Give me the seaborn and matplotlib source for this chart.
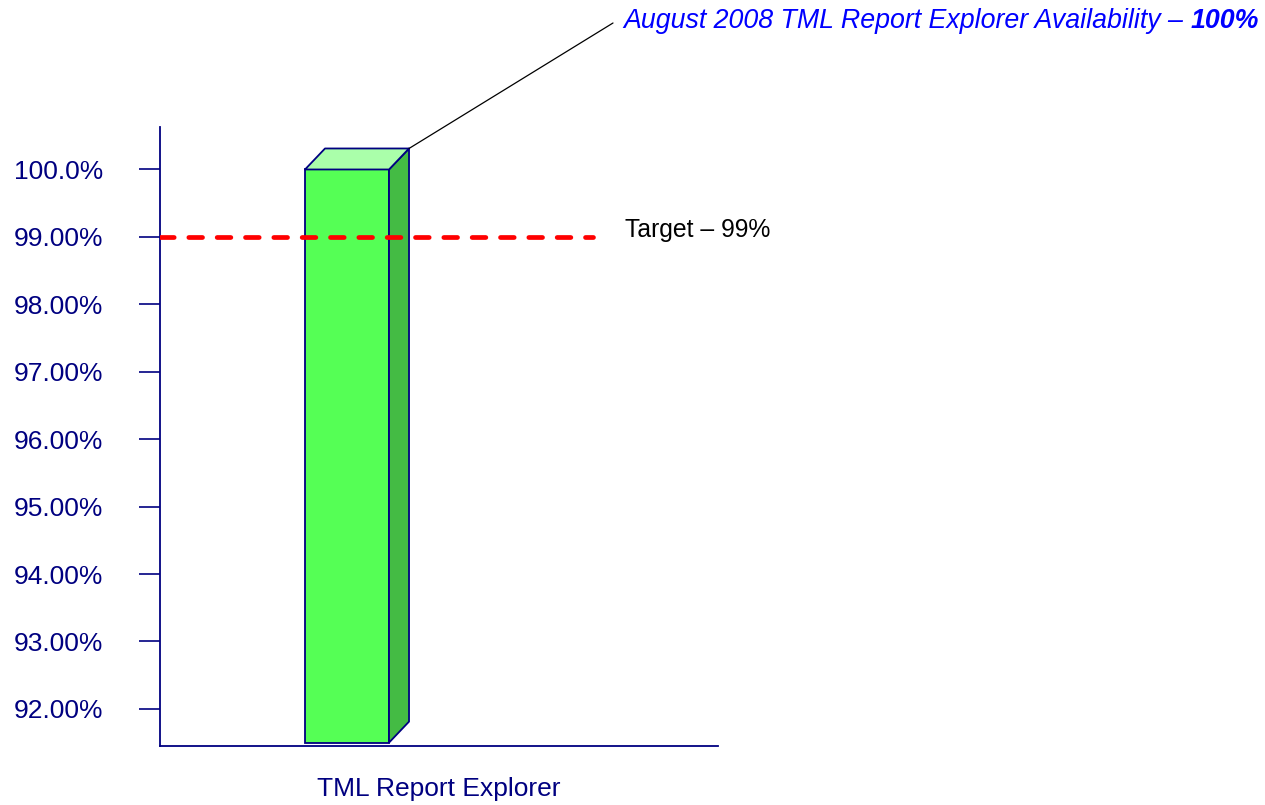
import numpy as np
import pandas as pd
import matplotlib
matplotlib.use("Agg")
import matplotlib.pyplot as plt
import seaborn as sns
from matplotlib.patches import Polygon
from matplotlib.offsetbox import TextArea, HPacker, AnnotationBbox

# ---- data ----
categories = ["TML Report Explorer"]
availability = [100.0]
target_value = 99.0
ytick_values = [92, 93, 94, 95, 96, 97, 98, 99, 100]
ytick_labels = ["92.00%", "93.00%", "94.00%", "95.00%", "96.00%",
                "97.00%", "98.00%", "99.00%", "100.0%"]
title_main = "August 2008 TML Report Explorer Availability \u2013 "
title_value = "100%"
target_label = "Target \u2013 99%"

# ---- style ----
NAVY = "#000080"
FRONT = "#55FF55"
TOP = "#AAFFAA"
SIDE = "#44BB44"
BLUE = "#0000FF"

sns.set_style("white")
plt.rcParams["font.family"] = ["Liberation Sans", "DejaVu Sans"]

W, H = 1265, 805
fig = plt.figure(figsize=(W / 100, H / 100), dpi=100)
ax = fig.add_axes([160 / W, 1 - 746 / H, 558 / W, 619 / H])

df = pd.DataFrame({"system": categories, "availability": availability})
sns.barplot(data=df, x="system", y="availability", color=FRONT, saturation=1,
            width=0.8, edgecolor=NAVY, linewidth=1.3, ax=ax, zorder=2)

ax.set_xlim(-1.781, 3.533)
ax.set_ylim(91.45, 100.63)

# bar base of the 3D column
base = 91.5
bar = ax.patches[0]
bar.set_y(base)
bar.set_height(availability[0] - base)

# depth offsets (pixels -> data)
inv = ax.transData.inverted()
o = ax.transData.transform((0, 95))
p = inv.transform(o + np.array([20, 21]))
ddx, ddy = p[0] - 0, p[1] - 95

xl = bar.get_x()
xr = xl + bar.get_width()
top = bar.get_y() + bar.get_height()
side = Polygon([(xr, base), (xr, top), (xr + ddx, top + ddy), (xr + ddx, base + ddy)],
               closed=True, facecolor=SIDE, edgecolor=NAVY, linewidth=1.3,
               zorder=2, clip_on=False, joinstyle="round")
topface = Polygon([(xl, top), (xr, top), (xr + ddx, top + ddy), (xl + ddx, top + ddy)],
                  closed=True, facecolor=TOP, edgecolor=NAVY, linewidth=1.3,
                  zorder=2, clip_on=False, joinstyle="round")
ax.add_patch(side)
ax.add_patch(topface)

# target line
ax.axhline(target_value, xmin=0, xmax=0.776, color="red", lw=3.4,
           linestyle=(0, (2.9, 3.1)), dash_capstyle="round", zorder=5)
ax.annotate(target_label, xy=(0.776, target_value), xycoords=ax.get_yaxis_transform(),
            xytext=(32, 7), textcoords="offset pixels", va="center", ha="left",
            fontsize=17.8, color="black")

# ticks and spines
ax.set_yticks(ytick_values, ytick_labels)
ax.tick_params(axis="y", direction="out", length=15, width=1.2, color=NAVY,
               labelcolor=NAVY, labelsize=19, pad=26, left=True)
ax.tick_params(axis="x", bottom=False, labelbottom=False)
for s in ["top", "right"]:
    ax.spines[s].set_visible(False)
for s in ["left", "bottom"]:
    ax.spines[s].set_color(NAVY)
    ax.spines[s].set_linewidth(1.3)

ax.set_ylabel("")
ax.set_xlabel(categories[0], fontsize=19, color=NAVY, va="center")
ax.xaxis.set_label_coords(0.5, -(789 - 746) / 619)

# callout title
ax.annotate("", xy=(xr + ddx, top + ddy), xycoords="data",
            xytext=(613, H - 23), textcoords="figure pixels",
            arrowprops=dict(arrowstyle="-", color="black", lw=0.9,
                            shrinkA=0, shrinkB=0), annotation_clip=False)
box = HPacker(children=[
    TextArea(title_main, textprops=dict(color=BLUE, style="italic", size=19.3)),
    TextArea(title_value, textprops=dict(color=BLUE, style="italic",
                                         weight="bold", size=19.3)),
], align="baseline", pad=0, sep=0)
ab = AnnotationBbox(box, (623, H - 21), xycoords="figure pixels",
                    box_alignment=(0, 0.5), frameon=False, pad=0,
                    annotation_clip=False)
ax.add_artist(ab)

fig.savefig("out.png", dpi=100)
